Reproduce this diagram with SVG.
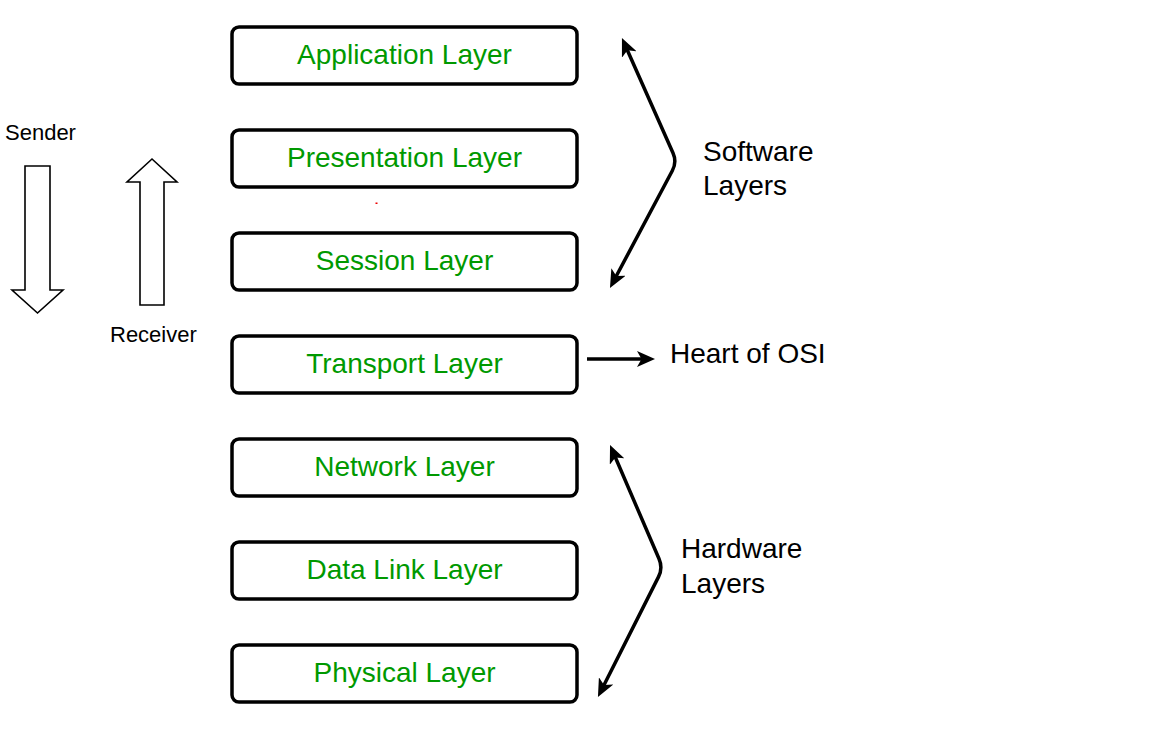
<svg xmlns="http://www.w3.org/2000/svg" width="1152" height="730" viewBox="0 0 1152 730">
<style>
.box{fill:#fff;stroke:#000;stroke-width:3.5}
.lbl{font-family:"Liberation Sans",Arial,sans-serif;font-size:28px;fill:#009900;text-anchor:middle}
.side{font-family:"Liberation Sans",Arial,sans-serif;font-size:28px;fill:#000}
.small{font-family:"Liberation Sans",Arial,sans-serif;font-size:22px;fill:#000}
.conn{fill:none;stroke:#000;stroke-width:3.5}
.flow{fill:#fff;stroke:#000;stroke-width:1.6;stroke-linejoin:miter}
</style>
<defs>
<marker id="ah" viewBox="0 0 18 16" markerWidth="18" markerHeight="16" refX="9" refY="8" orient="auto-start-reverse" markerUnits="userSpaceOnUse">
<path d="M0,0 L18,8 L0,16 L4.5,8 z" fill="#000"/>
</marker>
</defs>
<rect width="1152" height="730" fill="#fff"/>
<g id="application"><rect class="box" x="232" y="27" width="345" height="57" rx="7"/><text class="lbl" x="404.5" y="64">Application Layer</text></g>
<g id="presentation"><rect class="box" x="232" y="130" width="345" height="57" rx="7"/><text class="lbl" x="404.5" y="167">Presentation Layer</text></g>
<g id="session"><rect class="box" x="232" y="233" width="345" height="57" rx="7"/><text class="lbl" x="404.5" y="270">Session Layer</text></g>
<g id="transport"><rect class="box" x="232" y="336" width="345" height="57" rx="7"/><text class="lbl" x="404.5" y="373">Transport Layer</text></g>
<g id="network"><rect class="box" x="232" y="439" width="345" height="57" rx="7"/><text class="lbl" x="404.5" y="476">Network Layer</text></g>
<g id="datalink"><rect class="box" x="232" y="542" width="345" height="57" rx="7"/><text class="lbl" x="404.5" y="579">Data Link Layer</text></g>
<g id="physical"><rect class="box" x="232" y="645" width="345" height="57" rx="7"/><text class="lbl" x="404.5" y="682">Physical Layer</text></g>
<g id="sender"><text class="small" x="5" y="140">Sender</text><polygon class="flow" points="25,166 50,166 50,290 63,290 37.5,313 12,290 25,290"/></g>
<g id="receiver"><polygon class="flow" points="140,305 164,305 164,182 177,182 152,159 127,182 140,182"/><text class="small" x="110" y="342">Receiver</text></g>
<g id="software"><text class="side" x="703" y="161">Software</text><text class="side" x="703" y="195">Layers</text></g>
<g id="heart"><text class="side" x="670" y="363">Heart of OSI</text></g>
<g id="hardware"><text class="side" x="681" y="558">Hardware</text><text class="side" x="681" y="593">Layers</text></g>
<g id="connectors">
<path class="conn" d="M625.6,46.2 L673,153 Q677,162 672.3,170.8 L614.2,280" marker-start="url(#ah)" marker-end="url(#ah)"/>
<path class="conn" d="M587,359 L646,359" marker-end="url(#ah)" stroke-width="3"/>
<path class="conn" d="M613.6,453.3 L659,558.8 Q663,568 658.5,576.9 L602,689" marker-start="url(#ah)" marker-end="url(#ah)"/>
</g>
<rect x="375.5" y="202.5" width="2" height="1.5" fill="#e00"/>
</svg>
